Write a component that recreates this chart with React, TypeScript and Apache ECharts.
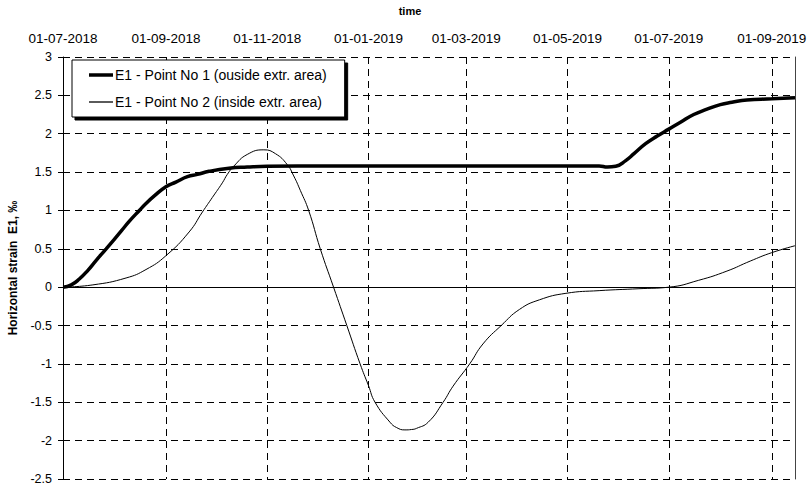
import React, { useEffect, useRef } from "react";
import * as echarts from "echarts";

const xTickDates = [
  "2018-07-01", "2018-09-01", "2018-11-01", "2019-01-01",
  "2019-03-01", "2019-05-01", "2019-07-01", "2019-09-01",
];
const xMinDate = "2018-07-01";
const xMaxDate = "2019-09-15";
const yMin = -2.5;
const yMax = 3;
const yStep = 0.5;

const seriesNames = [
  "E1 - Point No 1 (ouside extr. area)",
  "E1 - Point No 2 (inside extr. area)",
];

const p1Dates = [
  "2018-07-01", "2018-07-06", "2018-07-11", "2018-07-16", "2018-07-21", "2018-07-27",
  "2018-08-05", "2018-08-10", "2018-08-16", "2018-08-20", "2018-08-25", "2018-09-01",
  "2018-09-07", "2018-09-14", "2018-09-20", "2018-09-27", "2018-10-09", "2018-10-20",
  "2018-11-01", "2018-12-08", "2019-03-08", "2019-05-20", "2019-05-25", "2019-05-30",
  "2019-06-05", "2019-06-10", "2019-06-17", "2019-06-24", "2019-07-01", "2019-07-08",
  "2019-07-16", "2019-07-24", "2019-08-01", "2019-08-08", "2019-08-17", "2019-09-01",
  "2019-09-15",
];
const p1Values = [
  0, 0.03, 0.11, 0.22, 0.35, 0.5,
  0.73, 0.86, 1.0, 1.09, 1.19, 1.31,
  1.37, 1.44, 1.47, 1.51, 1.55, 1.565,
  1.575, 1.58, 1.58, 1.58, 1.565, 1.575,
  1.65, 1.74, 1.87, 1.97, 2.06, 2.15,
  2.25, 2.32, 2.38, 2.41, 2.44, 2.455,
  2.47,
];

const p2Dates = [
  "2018-07-01", "2018-07-19", "2018-08-08", "2018-08-20", "2018-09-01",
  "2018-09-15", "2018-09-23", "2018-09-29", "2018-10-05", "2018-10-08", "2018-10-12",
  "2018-10-20", "2018-10-30", "2018-11-06", "2018-11-13", "2018-11-17", "2018-11-21",
  "2018-11-26", "2018-12-03", "2018-12-11", "2018-12-19", "2018-12-27", "2019-01-01",
  "2019-01-05", "2019-01-14", "2019-01-18", "2019-01-23", "2019-01-27", "2019-01-30",
  "2019-02-06", "2019-02-15", "2019-02-21", "2019-03-03", "2019-03-11", "2019-03-22",
  "2019-04-02", "2019-04-14", "2019-04-30", "2019-05-20", "2019-06-13", "2019-07-01",
  "2019-07-19", "2019-08-05", "2019-08-19", "2019-09-01", "2019-09-15",
];
const p2Values = [
  0, 0.03, 0.12, 0.23, 0.41,
  0.72, 0.98, 1.17, 1.36, 1.47, 1.58,
  1.73, 1.79, 1.74, 1.6, 1.45, 1.26,
  1.0, 0.5, 0.0, -0.5, -1.0, -1.28,
  -1.5, -1.76, -1.83, -1.86, -1.855, -1.84,
  -1.76, -1.5, -1.29, -1.0, -0.74, -0.5,
  -0.29, -0.165, -0.08, -0.045, -0.02, 0.0,
  0.09, 0.21, 0.34, 0.45, 0.54,
];

function ts(s: string): number {
  const [y, m, d] = s.split("-").map(Number);
  return new Date(y, m - 1, d).getTime();
}
function pad(n: number) {
  return n < 10 ? "0" + n : "" + n;
}
function fmtDate(v: number) {
  const d = new Date(v);
  return pad(d.getDate()) + "-" + pad(d.getMonth() + 1) + "-" + d.getFullYear();
}

const FONT = "'Liberation Sans', Arial, sans-serif";
const gridDash = { color: "#000", width: 1, type: [7, 5] as number[] };

export default function App() {
  const ref = useRef<HTMLDivElement>(null);
  useEffect(() => {
    if (!ref.current) return;
    const chart = echarts.init(ref.current, undefined, { renderer: "svg" });
    const tickTs = xTickDates.map(ts);
    const option: any = {
      animation: false,
      backgroundColor: "#fff",
      textStyle: { fontFamily: FONT, color: "#000" },
      grid: { left: 63, right: 16, top: 57, bottom: 7, containLabel: false, outerBoundsMode: "none" },
      legend: {
        left: 72,
        top: 60,
        orient: "vertical",
        backgroundColor: "#fff",
        borderColor: "#000",
        borderWidth: 1,
        borderRadius: 0,
        shadowColor: "#000",
        shadowOffsetX: 3,
        shadowOffsetY: 3,
        shadowBlur: 0,
        padding: [8, 18, 8, 17],
        itemWidth: 24,
        itemHeight: 14,
        itemGap: 13,
        itemStyle: { borderWidth: 0 },
        textStyle: { fontFamily: FONT, fontSize: 14, color: "#000", padding: [0, 0, 0, -3] },
        data: [
          { name: seriesNames[0], icon: "path://M0,0H24V3.5H0Z" },
          { name: seriesNames[1], icon: "path://M0,0H24V1.3H0Z" },
        ],
      },
      xAxis: {
        type: "value",
        position: "top",
        min: ts(xMinDate),
        max: ts(xMaxDate),
        name: "time",
        nameLocation: "middle",
        nameGap: 41,
        nameTextStyle: { fontFamily: FONT, fontWeight: "bold", fontSize: 11, color: "#000", padding: [0, 38, 0, 0] },
        axisLine: { show: false, onZero: false },
        axisTick: { show: true, inside: true, length: 4, lineStyle: { color: "#000" }, customValues: tickTs },
        axisLabel: {
          customValues: tickTs,
          formatter: (v: number) => fmtDate(v),
          fontFamily: FONT,
          fontSize: 13.5,
          color: "#000",
          margin: 12,
          hideOverlap: false,
        },
        splitLine: { show: true, lineStyle: gridDash },
      },
      yAxis: [
        {
          type: "value",
          min: yMin,
          max: yMax,
          interval: yStep,
          name: "Horizontal strain  E1, \u2030",
          nameLocation: "middle",
          nameRotate: 90,
          nameGap: 44,
          nameTextStyle: { fontFamily: FONT, fontWeight: "bold", fontSize: 12, color: "#000" },
          axisLine: { show: true, onZero: false, lineStyle: { color: "#000", width: 1 } },
          axisTick: { show: true, inside: false, length: 5, lineStyle: { color: "#000" } },
          axisLabel: { fontFamily: FONT, fontSize: 12.5, color: "#000", margin: 11 },
          splitLine: { show: true, lineStyle: gridDash },
        },
        {
          type: "value",
          min: yMin,
          max: yMax,
          interval: yStep,
          position: "right",
          axisLine: { show: true, onZero: false, lineStyle: { color: "#444", width: 1 } },
          axisTick: { show: false },
          axisLabel: { show: false },
          splitLine: { show: false },
        },
      ],
      series: [
        {
          name: seriesNames[0],
          type: "line",
          yAxisIndex: 0,
          data: p1Dates.map((d, i) => [ts(d), p1Values[i]]),
          smooth: 0.5,
          symbol: "none",
          lineStyle: { color: "#000", width: 3.5 },
          itemStyle: { color: "#000" },
          z: 3,
        },
        {
          name: seriesNames[1],
          type: "line",
          yAxisIndex: 0,
          data: p2Dates.map((d, i) => [ts(d), p2Values[i]]),
          smooth: 0.5,
          symbol: "none",
          lineStyle: { color: "#000", width: 1 },
          itemStyle: { color: "#000" },
          z: 3,
          markLine: {
            silent: true,
            symbol: "none",
            label: { show: false },
            lineStyle: { color: "#000", width: 1, type: "solid" },
            data: [{ yAxis: 0 }],
          },
        },
      ],
    };
    chart.setOption(option);
    return () => chart.dispose();
  }, []);
  return (
    <div
      ref={ref}
      style={{ position: "fixed", left: 0, top: 0, width: 811, height: 486 }}
    />
  );
}
